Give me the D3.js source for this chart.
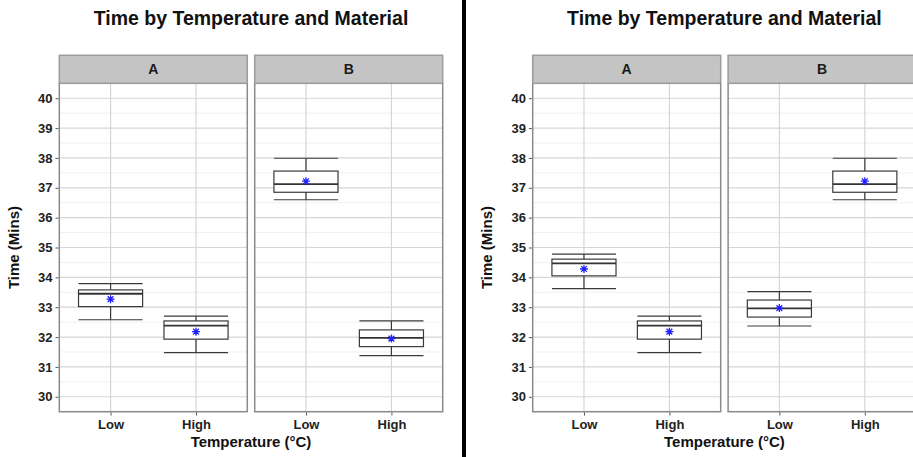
<!DOCTYPE html>
<html>

<head>
    <style>
        body { margin: 0; background: #fff; }
        text { font-family: "Liberation Sans", Arial, sans-serif; }
        .title { font-size: 19.5px; font-weight: bold; fill: #111; }
        .strip-label { font-size: 14px; font-weight: bold; fill: #1a1a1a; }
        .axis-title { font-size: 15px; font-weight: bold; fill: #111; }
        .axis text { font-size: 13px; font-weight: bold; fill: #222; }
        .axis line { stroke: #555; }
        .axis path { display: none; }
    </style>
    <script src="https://d3js.org/d3.v7.min.js"></script>
    <title>Time by Temperature and Material</title>
</head>

<body>
    <svg width="913" height="457"></svg>
    <script>
        // Categories and ticks
        var materials = ["A", "B"];
        var temps = ["Low", "High"];
        var yTicks = [30, 31, 32, 33, 34, 35, 36, 37, 38, 39, 40];

        // Box stats, order: A-Low, A-High, B-Low, B-High
        var leftMin = [32.58, 31.48, 36.6, 31.38];
        var leftQ1 = [33.02, 31.93, 36.85, 31.68];
        var leftMedian = [33.45, 32.38, 37.12, 31.97];
        var leftQ3 = [33.58, 32.54, 37.56, 32.24];
        var leftMax = [33.79, 32.7, 37.99, 32.54];
        var leftMean = [33.27, 32.18, 37.22, 31.95];

        var rightMin = [33.62, 31.48, 32.37, 36.6];
        var rightQ1 = [34.05, 31.93, 32.67, 36.85];
        var rightMedian = [34.47, 32.38, 32.96, 37.12];
        var rightQ3 = [34.61, 32.54, 33.24, 37.56];
        var rightMax = [34.78, 32.7, 33.52, 37.99];
        var rightMean = [34.28, 32.18, 32.97, 37.22];

        var svg = d3.select("svg");

        function buildRows(mins, q1s, meds, q3s, maxs, means) {
            var rows = [];
            materials.forEach(function (m, i) {
                temps.forEach(function (t, j) {
                    var k = i * temps.length + j;
                    rows.push({ material: m, temp: t, min: mins[k], q1: q1s[k], median: meds[k], q3: q3s[k], max: maxs[k], mean: means[k] });
                });
            });
            return rows;
        }

        function drawChart(offsetX, rows) {
            var g = svg.append("g").attr("transform", "translate(" + offsetX + ",0)");
            var panelLeft = 59.3, panelTop = 83.3, panelBottom = 411.7, stripTop = 55.3;

            var facet = d3.scaleBand().domain(materials).range([panelLeft, panelLeft + 383.4]).paddingInner(0.038).paddingOuter(0);
            var pw = facet.bandwidth();
            var x = d3.scalePoint().domain(temps).range([0, pw]).padding(0.6);
            var y = d3.scaleLinear().domain([29.5, 40.5]).range([panelBottom, panelTop]);
            var boxW = x.step() * 0.75;

            // Title
            g.append("text")
                .attr("class", "title")
                .attr("x", panelLeft + 383.4 / 2)
                .attr("y", 24.5)
                .attr("text-anchor", "middle")
                .text("Time by Temperature and Material");

            materials.forEach(function (m) {
                var p = g.append("g").attr("transform", "translate(" + facet(m) + ",0)");

                // minor grid
                var minor = d3.range(29.5, 40.6, 1);
                p.selectAll(".minor").data(minor).enter().append("line")
                    .attr("x1", 0).attr("x2", pw)
                    .attr("y1", function (d) { return y(d); }).attr("y2", function (d) { return y(d); })
                    .attr("stroke", "#f0f0f0").attr("stroke-width", 1);

                // major grid
                p.selectAll(".major").data(yTicks).enter().append("line")
                    .attr("x1", 0).attr("x2", pw)
                    .attr("y1", function (d) { return y(d); }).attr("y2", function (d) { return y(d); })
                    .attr("stroke", "#d6d6d6").attr("stroke-width", 1.2);
                p.selectAll(".vmajor").data(temps).enter().append("line")
                    .attr("x1", function (d) { return x(d); }).attr("x2", function (d) { return x(d); })
                    .attr("y1", panelTop).attr("y2", panelBottom)
                    .attr("stroke", "#d6d6d6").attr("stroke-width", 1.2);

                // boxes
                var data = rows.filter(function (r) { return r.material === m; });
                var b = p.selectAll(".box").data(data).enter().append("g")
                    .attr("transform", function (d) { return "translate(" + x(d.temp) + ",0)"; });

                b.append("line")
                    .attr("x1", 0).attr("x2", 0)
                    .attr("y1", function (d) { return y(d.max); }).attr("y2", function (d) { return y(d.min); })
                    .attr("stroke", "#3a3a3a").attr("stroke-width", 1.2);
                b.append("line")
                    .attr("x1", -boxW / 2).attr("x2", boxW / 2)
                    .attr("y1", function (d) { return y(d.max); }).attr("y2", function (d) { return y(d.max); })
                    .attr("stroke", "#3a3a3a").attr("stroke-width", 1.2);
                b.append("line")
                    .attr("x1", -boxW / 2).attr("x2", boxW / 2)
                    .attr("y1", function (d) { return y(d.min); }).attr("y2", function (d) { return y(d.min); })
                    .attr("stroke", "#3a3a3a").attr("stroke-width", 1.2);
                b.append("rect")
                    .attr("x", -boxW / 2).attr("width", boxW)
                    .attr("y", function (d) { return y(d.q3); })
                    .attr("height", function (d) { return y(d.q1) - y(d.q3); })
                    .attr("fill", "#fff").attr("stroke", "#3a3a3a").attr("stroke-width", 1.2);
                b.append("line")
                    .attr("x1", -boxW / 2).attr("x2", boxW / 2)
                    .attr("y1", function (d) { return y(d.median); }).attr("y2", function (d) { return y(d.median); })
                    .attr("stroke", "#333").attr("stroke-width", 1.8);

                // mean asterisk
                var s = 4;
                b.append("path")
                    .attr("d", function (d) {
                        var cy = y(d.mean), r = s * 0.72;
                        return "M" + (-s) + "," + cy + "H" + s +
                            "M0," + (cy - s) + "V" + (cy + s) +
                            "M" + (-r) + "," + (cy - r) + "L" + r + "," + (cy + r) +
                            "M" + (-r) + "," + (cy + r) + "L" + r + "," + (cy - r);
                    })
                    .attr("stroke", "#1f1fff").attr("stroke-width", 1.3).attr("fill", "none");

                // panel border
                p.append("rect")
                    .attr("x", 0).attr("y", panelTop).attr("width", pw).attr("height", panelBottom - panelTop)
                    .attr("fill", "none").attr("stroke", "#8a8a8a").attr("stroke-width", 1.5);

                // strip
                p.append("rect")
                    .attr("x", 0).attr("y", stripTop).attr("width", pw).attr("height", panelTop - stripTop)
                    .attr("fill", "#c4c4c4").attr("stroke", "#9c9c9c").attr("stroke-width", 1.5);
                p.append("text")
                    .attr("class", "strip-label")
                    .attr("x", pw / 2).attr("y", (stripTop + panelTop) / 2 + 5)
                    .attr("text-anchor", "middle")
                    .text(m);

                // x axis
                p.append("g")
                    .attr("class", "axis")
                    .attr("transform", "translate(0," + (panelBottom + 0.8) + ")")
                    .call(d3.axisBottom(x).tickSize(3).tickPadding(4));
            });

            // y axis
            g.append("g")
                .attr("class", "axis")
                .attr("transform", "translate(" + (panelLeft - 0.8) + ",0)")
                .call(d3.axisLeft(y).tickValues(yTicks).tickSize(3).tickPadding(3));

            // axis titles
            g.append("text")
                .attr("class", "axis-title")
                .attr("transform", "translate(19," + ((panelTop + panelBottom) / 2) + ") rotate(-90)")
                .attr("text-anchor", "middle")
                .text("Time (Mins)");
            g.append("text")
                .attr("class", "axis-title")
                .attr("x", panelLeft + 383.4 / 2)
                .attr("y", 447)
                .attr("text-anchor", "middle")
                .text("Temperature (\u00B0C)");
        }

        drawChart(0, buildRows(leftMin, leftQ1, leftMedian, leftQ3, leftMax, leftMean));
        drawChart(473.4, buildRows(rightMin, rightQ1, rightMedian, rightQ3, rightMax, rightMean));

        // divider
        svg.append("rect")
            .attr("x", 462).attr("y", 0).attr("width", 4).attr("height", 457)
            .attr("fill", "#000");
    </script>
</body>

</html>
